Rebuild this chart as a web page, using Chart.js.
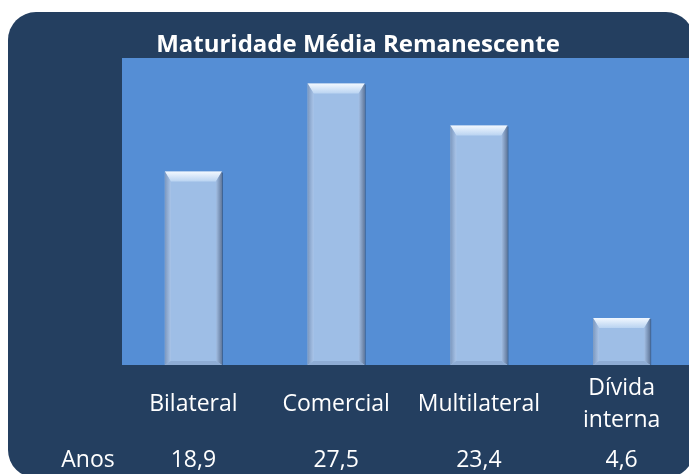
<!DOCTYPE html>
<html>
<head>
<meta charset="utf-8">
<script src="https://cdn.jsdelivr.net/npm/chart.js@4"></script>
<style>
  html, body { margin: 0; padding: 0; background: #ffffff; overflow: hidden; width: 689px; height: 474px; }
  #frame { position: absolute; left: 8px; top: 12px; width: 686px; height: 466px; background: #243f60; border-radius: 28px; }
  #mycanvas { position: absolute; left: 0; top: 0; }
</style>
</head>
<body>
<div id="frame"></div>
<canvas id="mycanvas" width="700" height="474"></canvas>
<script>
var titulo = "Maturidade Média Remanescente";
var categorias = [["Bilateral"], ["Comercial"], ["Multilateral"], ["Dívida", "interna"]];
var anos = [18.9, 27.5, 23.4, 4.6];
var rotuloLinha = "Anos";
var fonte = "'Open Sans', Lato, sans-serif";

// fundo da área do gráfico
var fundoPlot = {
	id: "fundoPlot",
	beforeDraw: function(chart) {
		var a = chart.chartArea, ctx = chart.ctx;
		ctx.save();
		ctx.fillStyle = "#558ed5";
		ctx.fillRect(a.left, a.top, a.right - a.left, a.bottom - a.top);
		ctx.restore();
	}
};

// efeito de bisel nas barras
var bisel = {
	id: "bisel",
	afterDatasetsDraw: function(chart) {
		var ctx = chart.ctx;
		chart.getDatasetMeta(0).data.forEach(function(bar) {
			var p = bar.getProps(["x", "y", "base", "width"], true);
			var l = p.x - p.width / 2, r = p.x + p.width / 2, t = p.y, b = p.base;
			var s = 6, tb = 10;
			ctx.save();
			// topo
			var g = ctx.createLinearGradient(0, t, 0, t + tb);
			g.addColorStop(0, "#f2f8ff");
			g.addColorStop(1, "#b9d3f1");
			ctx.fillStyle = g;
			ctx.beginPath();
			ctx.moveTo(l, t); ctx.lineTo(r, t); ctx.lineTo(r - s, t + tb); ctx.lineTo(l + s, t + tb); ctx.closePath();
			ctx.fill();
			// lado esquerdo
			var gl = ctx.createLinearGradient(l, 0, l + s, 0);
			gl.addColorStop(0, "#7c98bf");
			gl.addColorStop(1, "#a9c4e8");
			ctx.fillStyle = gl;
			ctx.beginPath();
			ctx.moveTo(l, t); ctx.lineTo(l + s, t + tb); ctx.lineTo(l + s, b - 4); ctx.lineTo(l, b); ctx.closePath();
			ctx.fill();
			// lado direito
			var gr = ctx.createLinearGradient(r - s, 0, r, 0);
			gr.addColorStop(0, "#a3bfe4");
			gr.addColorStop(1, "#62799c");
			ctx.fillStyle = gr;
			ctx.beginPath();
			ctx.moveTo(r, t); ctx.lineTo(r - s, t + tb); ctx.lineTo(r - s, b - 4); ctx.lineTo(r, b); ctx.closePath();
			ctx.fill();
			// base
			ctx.fillStyle = "#8eacd4";
			ctx.beginPath();
			ctx.moveTo(l, b); ctx.lineTo(l + s, b - 4); ctx.lineTo(r - s, b - 4); ctx.lineTo(r, b); ctx.closePath();
			ctx.fill();
			// contorno escuro à direita
			ctx.strokeStyle = "rgba(40,60,90,0.55)";
			ctx.lineWidth = 1;
			ctx.beginPath();
			ctx.moveTo(r + 0.5, t + 1); ctx.lineTo(r + 0.5, b);
			ctx.stroke();
			ctx.restore();
		});
	}
};

// título, rótulos das categorias e linha da tabela de dados
var textos = {
	id: "textos",
	afterDraw: function(chart) {
		var ctx = chart.ctx, a = chart.chartArea, xs = chart.scales.x;
		ctx.save();
		ctx.fillStyle = "#ffffff";
		ctx.textAlign = "center";
		ctx.textBaseline = "alphabetic";
		ctx.font = "bold 24px " + fonte;
		ctx.fillText(titulo, 358, 52);

		ctx.font = "23px " + fonte;
		categorias.forEach(function(c, i) {
			var x = xs.getPixelForValue(i);
			if (c.length == 1) {
				ctx.fillText(c[0], x, a.bottom + 46);
			} else {
				ctx.fillText(c[0], x, a.bottom + 30);
				ctx.fillText(c[1], x, a.bottom + 62);
			}
			ctx.fillText(anos[i].toFixed(1).replace(".", ","), x, a.bottom + 102);
		});
		ctx.fillText(rotuloLinha, 88, a.bottom + 102);
		ctx.restore();
	}
};

var chartdata = {
	labels: categorias.map(function(c) { return c.join(" "); }),
	datasets: [{
		label: rotuloLinha,
		data: anos,
		backgroundColor: "#9ebee6",
		borderWidth: 0,
		categoryPercentage: 1,
		barPercentage: 0.4
	}]
};

var ctx = document.getElementById("mycanvas");
var barGraph = new Chart(ctx, {
	type: "bar",
	data: chartdata,
	options: {
		responsive: false,
		animation: false,
		layout: { padding: { left: 122, top: 58, right: 7, bottom: 109 } },
		plugins: { legend: { display: false }, title: { display: false }, tooltip: { enabled: false } },
		scales: {
			x: { display: false },
			y: { display: false, min: 0, max: 30 }
		}
	},
	plugins: [fundoPlot, bisel, textos]
});
</script>
</body>
</html>
